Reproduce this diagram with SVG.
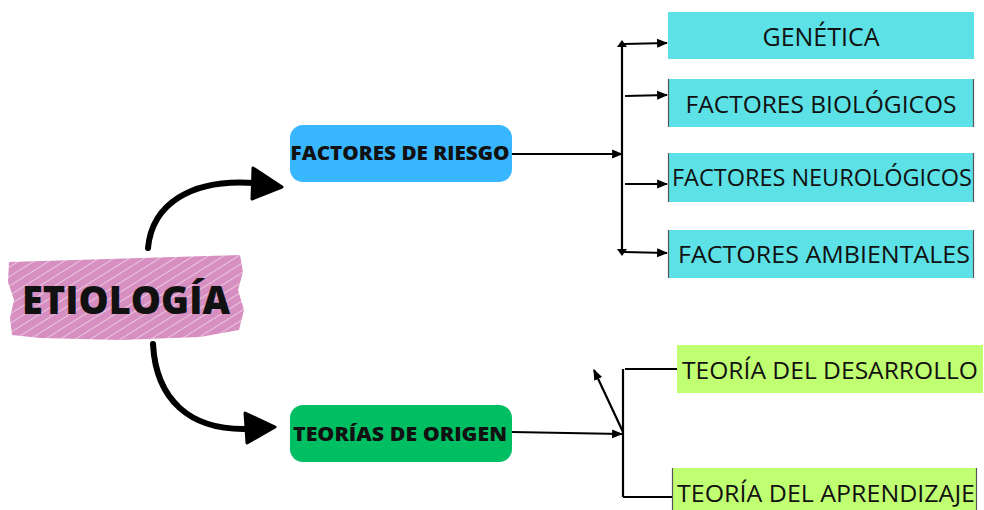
<svg xmlns="http://www.w3.org/2000/svg" width="984" height="510" viewBox="0 0 984 510">
<style>
.t{font-family:"Open Sans","Liberation Sans",sans-serif;fill:#111;}
.b{font-weight:800;}
.cy{fill:#5ce1e6;}
.gr{fill:#c1ff72;}
.edge{stroke:#555;stroke-width:1.2;}
.ln{stroke:#000;stroke-width:2.2;fill:none;}
.big{stroke:#000;stroke-width:6;fill:none;stroke-linecap:round;}
</style>
<defs>
<marker id="ah" viewBox="0 0 10 10" refX="9" refY="5" markerWidth="5" markerHeight="5" orient="auto" markerUnits="strokeWidth">
<path d="M0,1 L10,5 L0,9 Z" fill="#000"/>
</marker>
<pattern id="scr" patternUnits="userSpaceOnUse" width="8" height="8" patternTransform="rotate(-32)">
<rect width="8" height="8" fill="#d68fc0"/>
<line x1="0" y1="7.6" x2="8" y2="7.6" stroke="#f3dcec" stroke-width="0.8"/>
</pattern>
</defs>

<g id="connectors">
<path class="big" d="M148,248 C152,205 190,178 255,183"/>
<path d="M253,168 L282,187 L252,199 Z" fill="#000" stroke="#000" stroke-width="3" stroke-linejoin="round"/>
<path class="big" d="M153,344 C156,400 190,430 246,429"/>
<path d="M245,413 L275,427 L247,443 Z" fill="#000" stroke="#000" stroke-width="3" stroke-linejoin="round"/>

<line class="ln" x1="512" y1="154" x2="622" y2="154" marker-end="url(#ah)"/>
<line class="ln" x1="622" y1="44" x2="622" y2="252"/>
<line class="ln" x1="624" y1="44" x2="667" y2="43" marker-end="url(#ah)"/>
<line class="ln" x1="625" y1="96" x2="667" y2="95" marker-end="url(#ah)"/>
<line class="ln" x1="625" y1="184" x2="667" y2="184" marker-end="url(#ah)"/>
<line class="ln" x1="624" y1="252" x2="667" y2="253" marker-end="url(#ah)"/>
<path d="M617,47 L622,40 L627,47 Z" fill="#000"/>
<path d="M617,249 L622,256 L627,249 Z" fill="#000"/>

<line class="ln" x1="512" y1="432" x2="622" y2="434" marker-end="url(#ah)"/>
<line class="ln" x1="623" y1="369" x2="623" y2="497"/>
<line class="ln" x1="625" y1="369" x2="677" y2="369"/>
<line class="ln" x1="623" y1="497" x2="672" y2="497"/>
<line class="ln" x1="623" y1="432" x2="594" y2="370" marker-end="url(#ah)"/>
</g>

<g id="etiologia">
<path d="M9,262 L240,255 L243,272 L238,290 L244,310 L239,330 L200,337 L120,340 L40,338 L12,335 L10,318 L14,300 L8,282 Z" fill="url(#scr)"/>
<text class="t b" x="126" y="314" font-size="39" text-anchor="middle" textLength="208" lengthAdjust="spacingAndGlyphs">ETIOLOGÍA</text>
</g>

<g id="factores-riesgo">
<rect x="290" y="125" width="222" height="57" rx="13" fill="#38b6ff"/>
<text class="t b" x="400" y="160" font-size="19.5" text-anchor="middle" textLength="219" lengthAdjust="spacingAndGlyphs">FACTORES DE RIESGO</text>
</g>

<g id="teorias-origen">
<rect x="290" y="405" width="222" height="57" rx="13" fill="#00bf63"/>
<text class="t b" x="400" y="441" font-size="19.5" text-anchor="middle" textLength="214" lengthAdjust="spacingAndGlyphs">TEORÍAS DE ORIGEN</text>
</g>

<g id="genetica">
<rect class="cy" x="668" y="12" width="306" height="47"/>
<text class="t" x="821" y="46" font-size="25" text-anchor="middle">GENÉTICA</text>
</g>

<g id="biologicos">
<rect class="cy" x="668" y="79" width="306" height="48"/>
<line class="edge" x1="668.5" y1="79" x2="668.5" y2="127"/>
<line class="edge" x1="973.5" y1="79" x2="973.5" y2="127"/>
<text class="t" x="821" y="113" font-size="24.5" text-anchor="middle">FACTORES BIOLÓGICOS</text>
</g>

<g id="neurologicos">
<rect class="cy" x="668" y="153" width="306" height="49"/>
<line class="edge" x1="668.5" y1="153" x2="668.5" y2="202"/>
<line class="edge" x1="973.5" y1="153" x2="973.5" y2="202"/>
<text class="t" x="822" y="186" font-size="24.5" text-anchor="middle" textLength="300" lengthAdjust="spacingAndGlyphs">FACTORES NEUROLÓGICOS</text>
</g>

<g id="ambientales">
<rect class="cy" x="668" y="230" width="306" height="48"/>
<line class="edge" x1="668.5" y1="230" x2="668.5" y2="278"/>
<line class="edge" x1="973.5" y1="230" x2="973.5" y2="278"/>
<text class="t" x="824" y="263" font-size="24.5" text-anchor="middle" textLength="292" lengthAdjust="spacingAndGlyphs">FACTORES AMBIENTALES</text>
</g>

<g id="desarrollo">
<rect class="gr" x="677" y="345" width="306" height="48"/>
<text class="t" x="830" y="379" font-size="24.5" text-anchor="middle" textLength="296" lengthAdjust="spacingAndGlyphs">TEORÍA DEL DESARROLLO</text>
</g>

<g id="aprendizaje">
<rect class="gr" x="672" y="468" width="305" height="42"/>
<line class="edge" x1="672.5" y1="468" x2="672.5" y2="510"/>
<line class="edge" x1="976.5" y1="468" x2="976.5" y2="510"/>
<text class="t" x="826" y="502" font-size="24.5" text-anchor="middle" textLength="298" lengthAdjust="spacingAndGlyphs">TEORÍA DEL APRENDIZAJE</text>
</g>
</svg>
